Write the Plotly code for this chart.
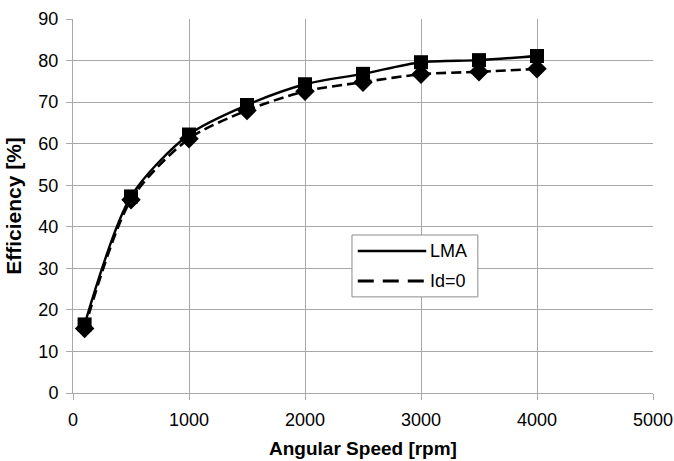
import plotly.graph_objects as go

speed = [100, 500, 1000, 1500, 2000, 2500, 3000, 3500, 4000]
eff_lma = [16.5, 47.3, 62.2, 69.3, 74.3, 76.8, 79.6, 80.1, 81.1]
eff_id0 = [15.5, 46.5, 61.2, 68.0, 72.6, 74.8, 76.7, 77.3, 78.0]

x_ticks = [0, 1000, 2000, 3000, 4000, 5000]
y_ticks = [0, 10, 20, 30, 40, 50, 60, 70, 80, 90]
legend_names = ["LMA", "Id=0"]

FONT = "Liberation Sans, Arial, sans-serif"

fig = go.Figure()
fig.add_trace(go.Scatter(x=speed, y=eff_lma, mode="markers", showlegend=False,
                         marker=dict(symbol="square", size=14, color="black")))
fig.add_trace(go.Scatter(x=speed, y=eff_id0, mode="markers", showlegend=False,
                         marker=dict(symbol="diamond", size=15, color="black")))
fig.add_trace(go.Scatter(x=speed, y=eff_id0, mode="lines", name="Id=0",
                         line=dict(color="black", width=2.6, dash="10px,5px",
                                   shape="spline", smoothing=0.8),
                         showlegend=False))
fig.add_trace(go.Scatter(x=speed, y=eff_lma, mode="lines", name="LMA",
                         line=dict(color="black", width=2.4, shape="spline", smoothing=0.8),
                         showlegend=False))

axis_common = dict(showgrid=True, gridcolor="#a8a8a8", gridwidth=1,
                   showline=True, linecolor="#a8a8a8", linewidth=1,
                   ticks="outside", ticklen=6, tickcolor="#a8a8a8",
                   zeroline=False, automargin=False,
                   tickfont=dict(family=FONT, size=18, color="black"))

# Legend drawn manually (box, line samples, labels) in paper coordinates
L_X0, L_X1, L_Y0, L_Y1 = 0.481, 0.698, 0.257, 0.4225
shapes = [
    dict(type="rect", xref="paper", yref="paper", x0=L_X0, x1=L_X1, y0=L_Y0, y1=L_Y1,
         line=dict(color="#8c8c8c", width=1), fillcolor="white", layer="above"),
    dict(type="line", xref="paper", yref="paper", x0=0.491, x1=0.609, y0=0.3797, y1=0.3797,
         line=dict(color="black", width=2.6), layer="above"),
    dict(type="line", xref="paper", yref="paper", x0=0.491, x1=0.609, y0=0.2995, y1=0.2995,
         line=dict(color="black", width=3, dash="16px,9px"), layer="above"),
]
annotations = [
    dict(text=legend_names[0], xref="paper", yref="paper", x=0.612, y=0.3797,
         xanchor="left", yanchor="middle", showarrow=False,
         font=dict(family=FONT, size=18, color="black")),
    dict(text=legend_names[1], xref="paper", yref="paper", x=0.612, y=0.2995,
         xanchor="left", yanchor="middle", showarrow=False,
         font=dict(family=FONT, size=18, color="black")),
]

fig.update_layout(
    width=674, height=461,
    margin=dict(l=73, r=21, t=19, b=68),
    paper_bgcolor="white", plot_bgcolor="white",
    xaxis=dict(range=[0, 5000], tickvals=x_ticks, ticklabelstandoff=4,
               title=dict(text="<b>Angular Speed [rpm]</b>", standoff=13,
                          font=dict(family=FONT, size=19, color="black")),
               **axis_common),
    yaxis=dict(range=[0, 90], tickvals=y_ticks, ticklabelstandoff=4,
               title=dict(text="<b>Efficiency [%]</b>", standoff=11,
                          font=dict(family=FONT, size=21, color="black")),
               **axis_common),
    shapes=shapes,
    annotations=annotations,
    showlegend=False,
)

fig.write_html(
    "out.html",
    config={"displayModeBar": False},
    post_script="document.body.style.margin='0';document.body.style.overflow='hidden';",
)
